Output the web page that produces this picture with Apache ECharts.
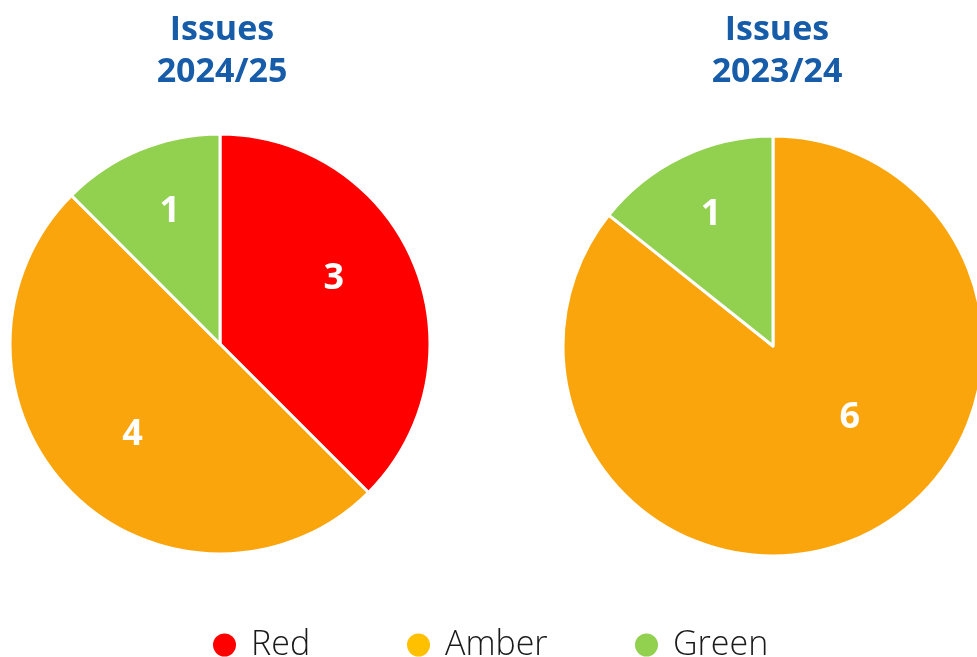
<!DOCTYPE html>
<html>
<head>
<meta charset="utf-8">
<title>Issues by RAG status</title>
<script src="https://cdn.jsdelivr.net/npm/echarts@6/dist/echarts.min.js"></script>
<style>
  html, body { margin: 0; padding: 0; background: #fff; }
  #chart { width: 977px; height: 657px; }
</style>
</head>
<body>
<div id="chart"></div>
<script>
// RAG categories and issue counts per year
const categories = ['Red', 'Amber', 'Green'];
const issues2024 = [3, 4, 1];
const issues2023 = [0, 6, 1];
const titles = ['Issues\n2024/25', 'Issues\n2023/24'];

const sliceColors = { Red: '#FF0000', Amber: '#FAA50B', Green: '#92D050' };
const legendColors = { Red: '#FF0000', Amber: '#FFC000', Green: '#92D050' };
// left edge of each legend entry along the bottom row
const legendLeft = { Red: 211, Amber: 405, Green: 633 };

// nudges that move each count label to a comfortable spot inside its slice
const labelNudge2024 = { Red: [14, -24], Amber: [-11, 14], Green: [-9, -32] };
const labelNudge2023 = { Amber: [30, -26], Green: [-15, -34] };

function pieData(values, nudges) {
  return categories
    .map((name, i) => ({ name, value: values[i] }))
    .filter(d => d.value > 0)
    .map(d => ({
      name: d.name,
      value: d.value,
      itemStyle: { color: sliceColors[d.name] },
      label: { offset: nudges[d.name] || [0, 0] }
    }));
}

const pieBase = {
  type: 'pie',
  radius: 210,
  startAngle: 90,
  clockwise: true,
  avoidLabelOverlap: false,
  silent: true,
  itemStyle: { borderColor: '#ffffff', borderWidth: 3 },
  label: {
    show: true,
    position: 'inside',
    formatter: '{c}',
    color: '#ffffff',
    fontFamily: 'Open Sans',
    fontWeight: 'bold',
    fontSize: 36
  },
  labelLine: { show: false },
  emphasis: { disabled: true }
};

const titleStyle = {
  color: '#175CA8',
  fontFamily: 'Open Sans',
  fontWeight: 'bold',
  fontSize: 34,
  lineHeight: 42
};

const legendText = {
  fontFamily: 'Open Sans',
  fontWeight: 300,
  fontSize: 34,
  color: '#1a1a1a',
  padding: [0, 0, 0, 9]
};

const chart = echarts.init(document.getElementById('chart'), null, { renderer: 'canvas' });
chart.setOption({
  backgroundColor: '#ffffff',
  animation: false,
  title: [
    { text: titles[0], left: 217, top: 4, textAlign: 'center', textStyle: titleStyle },
    { text: titles[1], left: 772, top: 4, textAlign: 'center', textStyle: titleStyle }
  ],
  legend: categories.map(name => ({
    top: 628,
    left: legendLeft[name],
    padding: 0,
    icon: 'circle',
    itemWidth: 25,
    itemHeight: 25,
    selectedMode: false,
    textStyle: legendText,
    data: [{ name, itemStyle: { color: legendColors[name] } }]
  })),
  series: [
    Object.assign({}, pieBase, { name: titles[0], center: [220, 344], data: pieData(issues2024, labelNudge2024) }),
    Object.assign({}, pieBase, { name: titles[1], center: [773, 346], data: pieData(issues2023, labelNudge2023) })
  ]
});
</script>
</body>
</html>
